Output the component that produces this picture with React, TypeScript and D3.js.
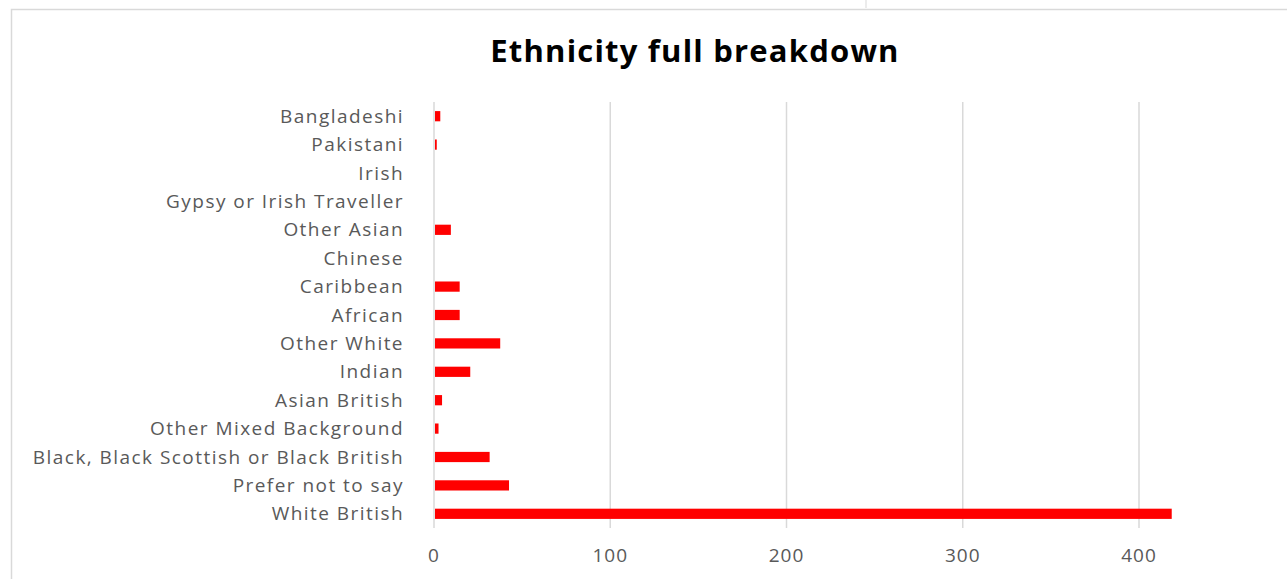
import React from "react";
import * as d3 from "d3";

// Categories listed top to bottom as they appear on the chart
const categories = [
  "Bangladeshi",
  "Pakistani",
  "Irish",
  "Gypsy or Irish Traveller",
  "Other Asian",
  "Chinese",
  "Caribbean",
  "African",
  "Other White",
  "Indian",
  "Asian British",
  "Other Mixed Background",
  "Black, Black Scottish or Black British",
  "Prefer not to say",
  "White British",
];

const counts = [3, 1, 0, 0, 9, 0, 14, 14, 37, 20, 4, 2, 31, 42, 418];

const xTicks = [0, 100, 200, 300, 400];

const title = "Ethnicity full breakdown";

const W = 1287;
const H = 579;

export default function App() {
  const x = d3.scaleLinear().domain([0, 400]).range([434, 1139]);
  const y = d3
    .scaleBand<string>()
    .domain(categories)
    .range([102, 528])
    .paddingInner(0.64)
    .paddingOuter(0.32);

  const labelFont = "'Open Sans', 'DejaVu Sans', sans-serif";

  return (
    <svg
      width={W}
      height={H}
      style={{ position: "absolute", left: 0, top: 0, background: "#fff" }}
    >
      {/* neighbouring frame edge above the chart */}
      <line x1={866} x2={866} y1={0} y2={8} stroke="#d9d9d9" strokeWidth={1} />
      {/* chart area border */}
      <rect
        x={11.5}
        y={9.5}
        width={W + 20}
        height={H + 20}
        fill="#fff"
        stroke="#d9d9d9"
        strokeWidth={1.5}
      />
      <text
        x={695}
        y={62}
        textAnchor="middle"
        fontFamily="'Open Sans', 'Liberation Sans', sans-serif"
        fontWeight={700}
        fontSize={31}
        letterSpacing={1.2}
        fill="#000"
      >
        {title}
      </text>

      {/* vertical gridlines */}
      {xTicks.map((t) => (
        <line
          key={t}
          x1={x(t)}
          x2={x(t)}
          y1={102}
          y2={528}
          stroke="#d9d9d9"
          strokeWidth={1.5}
        />
      ))}

      {/* bars */}
      {categories.map((c, i) => (
        <rect
          key={c}
          x={x(0) + 1}
          y={y(c)!}
          width={Math.max(0, x(counts[i]) - x(0))}
          height={y.bandwidth()}
          fill="#ff0000"
        />
      ))}

      {/* category labels */}
      {categories.map((c) => (
        <text
          key={c}
          x={404}
          y={y(c)! + y.bandwidth() / 2}
          dy="0.35em"
          textAnchor="end"
          fontFamily={labelFont}
          fontSize={19}
          letterSpacing={1.45}
          fill="#595959"
        >
          {c}
        </text>
      ))}

      {/* value axis labels */}
      {xTicks.map((t) => (
        <text
          key={t}
          x={x(t)}
          y={562}
          textAnchor="middle"
          fontFamily={labelFont}
          fontSize={19}
          letterSpacing={1}
          fill="#595959"
        >
          {t}
        </text>
      ))}
    </svg>
  );
}
